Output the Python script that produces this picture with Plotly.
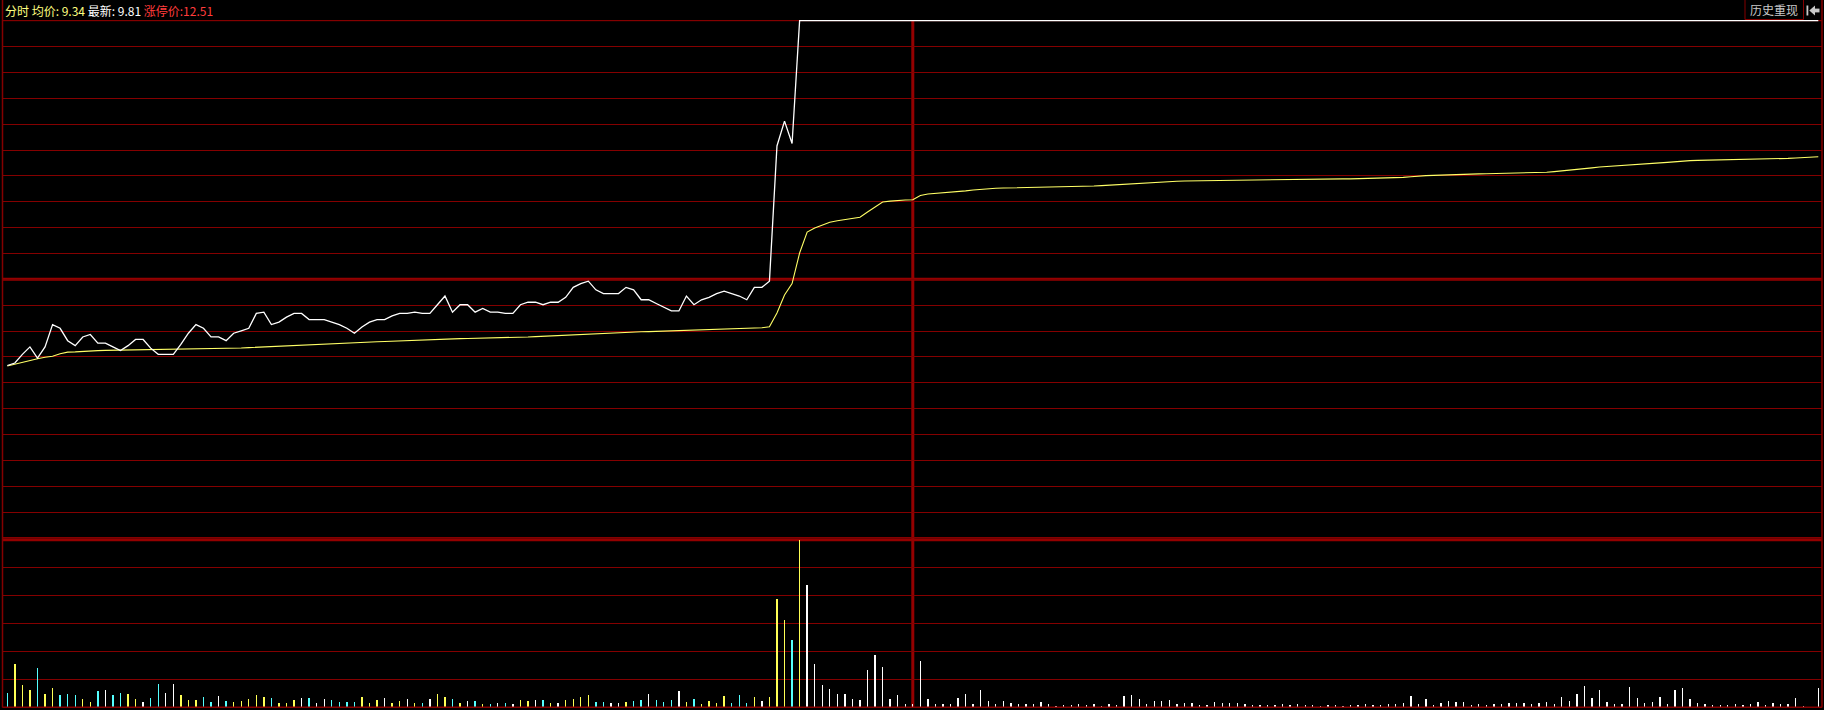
import plotly.graph_objects as go

W, H = 1824, 710

# ---------------- data ----------------
pre_close = 10.425
limit_up = 12.51
limit_down = 8.34

header_avg = "9.34"
header_last = "9.81"
header_limit = "12.51"

minutes = list(range(241))

price = [
    9.73, 9.75, 9.82, 9.88, 9.79, 9.88, 10.06, 10.03, 9.93, 9.89,
    9.96, 9.98, 9.91, 9.91, 9.88, 9.85, 9.89, 9.94, 9.94, 9.87,
    9.82, 9.82, 9.82, 9.90, 9.99, 10.06, 10.03, 9.96, 9.96, 9.93,
    9.99, 10.01, 10.03, 10.15, 10.16, 10.06, 10.08, 10.12, 10.15, 10.15,
    10.10, 10.10, 10.10, 10.08, 10.06, 10.03, 9.99, 10.04, 10.08, 10.10,
    10.10, 10.13, 10.15, 10.15, 10.16, 10.15, 10.15, 10.22, 10.29, 10.16,
    10.22, 10.22, 10.16, 10.19, 10.16, 10.16, 10.15, 10.15, 10.22, 10.24,
    10.24, 10.22, 10.24, 10.24, 10.28, 10.36, 10.39, 10.41, 10.34, 10.31,
    10.31, 10.31, 10.36, 10.34, 10.26, 10.26, 10.23, 10.20, 10.17, 10.17,
    10.29, 10.22, 10.26, 10.28, 10.31, 10.33, 10.31, 10.29, 10.26, 10.36,
    10.36, 10.41, 11.50, 11.70, 11.52, 12.51, 12.51, 12.51, 12.51, 12.51,
    12.51, 12.51, 12.51, 12.51, 12.51, 12.51, 12.51, 12.51, 12.51, 12.51,
    12.51, 12.51, 12.51, 12.51, 12.51, 12.51, 12.51, 12.51, 12.51, 12.51,
    12.51, 12.51, 12.51, 12.51, 12.51, 12.51, 12.51, 12.51, 12.51, 12.51,
    12.51, 12.51, 12.51, 12.51, 12.51, 12.51, 12.51, 12.51, 12.51, 12.51,
    12.51, 12.51, 12.51, 12.51, 12.51, 12.51, 12.51, 12.51, 12.51, 12.51,
    12.51, 12.51, 12.51, 12.51, 12.51, 12.51, 12.51, 12.51, 12.51, 12.51,
    12.51, 12.51, 12.51, 12.51, 12.51, 12.51, 12.51, 12.51, 12.51, 12.51,
    12.51, 12.51, 12.51, 12.51, 12.51, 12.51, 12.51, 12.51, 12.51, 12.51,
    12.51, 12.51, 12.51, 12.51, 12.51, 12.51, 12.51, 12.51, 12.51, 12.51,
    12.51, 12.51, 12.51, 12.51, 12.51, 12.51, 12.51, 12.51, 12.51, 12.51,
    12.51, 12.51, 12.51, 12.51, 12.51, 12.51, 12.51, 12.51, 12.51, 12.51,
    12.51, 12.51, 12.51, 12.51, 12.51, 12.51, 12.51, 12.51, 12.51, 12.51,
    12.51, 12.51, 12.51, 12.51, 12.51, 12.51, 12.51, 12.51, 12.51, 12.51,
    12.51,
]

avg_price = [
    9.726, 9.742, 9.755, 9.768, 9.785, 9.797, 9.805, 9.825, 9.838, 9.840,
    9.845, 9.848, 9.850, 9.852, 9.853, 9.855, 9.856, 9.857, 9.858, 9.858,
    9.858, 9.857, 9.857, 9.858, 9.860, 9.861, 9.862, 9.864, 9.865, 9.866,
    9.868, 9.871, 9.874, 9.877, 9.880, 9.883, 9.886, 9.890, 9.893, 9.896,
    9.900, 9.903, 9.906, 9.909, 9.911, 9.913, 9.914, 9.916, 9.918, 9.921,
    9.923, 9.926, 9.928, 9.930, 9.932, 9.934, 9.937, 9.941, 9.944, 9.946,
    9.947, 9.948, 9.949, 9.950, 9.951, 9.952, 9.953, 9.954, 9.957, 9.960,
    9.963, 9.966, 9.969, 9.972, 9.975, 9.978, 9.982, 9.986, 9.989, 9.992,
    9.995, 9.997, 9.999, 10.000, 10.002, 10.003, 10.005, 10.007, 10.009, 10.011,
    10.013, 10.015, 10.017, 10.019, 10.021, 10.023, 10.025, 10.026, 10.027, 10.030,
    10.034, 10.043, 10.153, 10.298, 10.390, 10.637, 10.806, 10.839, 10.863, 10.885,
    10.897, 10.905, 10.915, 10.925, 10.968, 11.006, 11.048, 11.055, 11.062, 11.064,
    11.066, 11.101, 11.113, 11.117, 11.121, 11.125, 11.131, 11.138, 11.145, 11.151,
    11.155, 11.159, 11.161, 11.162, 11.164, 11.165, 11.167, 11.168, 11.170, 11.171,
    11.172, 11.173, 11.174, 11.176, 11.177, 11.180, 11.184, 11.188, 11.191, 11.195,
    11.199, 11.202, 11.204, 11.207, 11.211, 11.215, 11.218, 11.219, 11.221, 11.222,
    11.223, 11.224, 11.225, 11.226, 11.227, 11.228, 11.229, 11.230, 11.231, 11.231,
    11.232, 11.232, 11.233, 11.233, 11.234, 11.234, 11.235, 11.235, 11.235, 11.236,
    11.236, 11.238, 11.240, 11.242, 11.245, 11.247, 11.252, 11.258, 11.261, 11.263,
    11.266, 11.268, 11.270, 11.272, 11.274, 11.275, 11.276, 11.277, 11.278, 11.279,
    11.280, 11.282, 11.284, 11.286, 11.288, 11.293, 11.298, 11.303, 11.309, 11.314,
    11.323, 11.330, 11.335, 11.340, 11.344, 11.348, 11.352, 11.356, 11.360, 11.364,
    11.368, 11.374, 11.379, 11.382, 11.384, 11.385, 11.385, 11.386, 11.386, 11.387,
    11.390, 11.393, 11.393, 11.393, 11.393, 11.393, 11.400, 11.403, 11.406, 11.409,
    11.413,
]

volume = [
    515, 1548, 792, 612, 1404, 468, 684, 432, 468, 432,
    288, 180, 576, 612, 432, 504, 468, 288, 180, 324,
    828, 504, 828, 432, 252, 252, 360, 180, 396, 216,
    180, 216, 288, 432, 360, 324, 144, 144, 252, 324,
    324, 144, 288, 252, 180, 180, 180, 360, 144, 252,
    324, 144, 216, 288, 144, 144, 288, 468, 360, 288,
    144, 216, 216, 108, 108, 144, 144, 108, 252, 216,
    252, 252, 144, 144, 252, 288, 360, 432, 180, 180,
    144, 144, 180, 216, 252, 468, 252, 180, 252, 576,
    180, 288, 108, 216, 144, 396, 144, 432, 144, 360,
    216, 360, 3888, 3132, 2412, 6000, 4392, 1548, 792, 648,
    468, 468, 288, 252, 1332, 1872, 1440, 288, 432, 108,
    108, 1656, 288, 108, 108, 108, 324, 468, 108, 612,
    216, 108, 216, 144, 108, 108, 108, 180, 108, 36,
    72, 72, 108, 72, 108, 36, 108, 72, 396, 432,
    288, 108, 216, 216, 252, 108, 144, 144, 72, 72,
    180, 144, 144, 144, 108, 72, 72, 72, 72, 108,
    72, 108, 72, 72, 36, 72, 72, 36, 72, 72,
    108, 72, 72, 108, 108, 144, 396, 108, 288, 72,
    144, 216, 180, 180, 72, 108, 72, 108, 108, 144,
    144, 144, 108, 144, 180, 108, 360, 216, 468, 756,
    324, 612, 180, 108, 108, 720, 324, 144, 180, 360,
    108, 612, 684, 288, 144, 108, 72, 72, 72, 108,
    72, 108, 180, 72, 144, 108, 108, 324, 36, 0,
    684,
]

# ---------------- styling ----------------
BG = "#000000"
GRID = "#840000"
GRID_THICK = "#940000"
WHITE = "#ffffff"
AVG_YELLOW = "#ffff66"
UP_COLOR = "#ffff55"
DOWN_COLOR = "#55ffff"
FLAT_COLOR = "#ffffff"
FONT = "Noto Sans CJK SC"

def px_x(px):
    return px / W

def px_y(py):
    return 1 - py / H

# pixel geometry of the panel
X_LEFT_PX, X_RIGHT_PX = 3.0, 1822.0
FIRST_BAR_PX, LAST_BAR_PX = 7.3, 1818.3
px_per_min = (LAST_BAR_PX - FIRST_BAR_PX) / (len(minutes) - 1)
x_range = [minutes[0] + (X_LEFT_PX - FIRST_BAR_PX) / px_per_min,
           minutes[-1] + (X_RIGHT_PX - LAST_BAR_PX) / px_per_min]

TOP_GRID_PX, MID_GRID_PX = 20.7, 279.3
px_per_yuan = (MID_GRID_PX - TOP_GRID_PX) / (limit_up - pre_close)
PRICE_TOP_PX, PRICE_BOT_PX = 12.0, 539.5
price_range = [pre_close - (PRICE_BOT_PX - MID_GRID_PX) / px_per_yuan,
               pre_close + (MID_GRID_PX - PRICE_TOP_PX) / px_per_yuan]

VOL_TOP_PX, VOL_BOT_PX = 540.0, 707.0
vol_max = max(volume)

# bar colours from price direction
prev = [pre_close] + price[:-1]
bar_colors = [UP_COLOR if p > q else (DOWN_COLOR if p < q else FLAT_COLOR)
              for p, q in zip(price, prev)]

fig = go.Figure()

fig.add_trace(go.Scatter(
    x=minutes, y=avg_price, mode="lines",
    line=dict(color=AVG_YELLOW, width=1.1), xaxis="x", yaxis="y",
    hoverinfo="skip"))
fig.add_trace(go.Scatter(
    x=minutes, y=price, mode="lines",
    line=dict(color=WHITE, width=1.3), xaxis="x", yaxis="y",
    hoverinfo="skip"))
fig.add_trace(go.Bar(
    x=minutes, y=volume, width=0.18,
    marker=dict(color=bar_colors, line=dict(width=0)),
    xaxis="x2", yaxis="y2", hoverinfo="skip"))

shapes = []
# thick lines: previous close and price/volume separator
shapes.append(dict(type="line", xref="paper", yref="y",
                   x0=px_x(X_LEFT_PX), x1=px_x(X_RIGHT_PX),
                   y0=pre_close, y1=pre_close,
                   line=dict(color=GRID_THICK, width=3), layer="below"))
shapes.append(dict(type="line", xref="paper", yref="paper",
                   x0=px_x(X_LEFT_PX), x1=px_x(X_RIGHT_PX),
                   y0=px_y(539.8), y1=px_y(539.8),
                   line=dict(color=GRID_THICK, width=3), layer="below"))
# top line of the price panel
shapes.append(dict(type="line", xref="paper", yref="y",
                   x0=px_x(X_LEFT_PX), x1=px_x(X_RIGHT_PX),
                   y0=limit_up, y1=limit_up,
                   line=dict(color=GRID, width=1), layer="below"))
# borders
shapes.append(dict(type="line", xref="paper", yref="paper",
                   x0=px_x(2.5), x1=px_x(2.5), y0=px_y(0), y1=px_y(707.5),
                   line=dict(color=GRID, width=1.5)))
shapes.append(dict(type="line", xref="paper", yref="paper",
                   x0=px_x(1822), x1=px_x(1822), y0=px_y(0), y1=px_y(707.5),
                   line=dict(color=GRID, width=1.5)))
shapes.append(dict(type="line", xref="paper", yref="paper",
                   x0=px_x(2.5), x1=px_x(1822), y0=px_y(707.3), y1=px_y(707.3),
                   line=dict(color=GRID, width=1.5)))
# midday separator
shapes.append(dict(type="line", xref="x", yref="paper",
                   x0=minutes[120], x1=minutes[120],
                   y0=px_y(TOP_GRID_PX), y1=px_y(707.5),
                   line=dict(color=GRID_THICK, width=3), layer="below"))
# "历史重现" button box
shapes.append(dict(type="rect", xref="paper", yref="paper",
                   x0=px_x(1745), x1=px_x(1803.5), y0=px_y(-1), y1=px_y(19.5),
                   line=dict(color=GRID, width=1), fillcolor=BG))
# back-arrow icon
ICON = "#c8c8c8"
shapes.append(dict(type="rect", xref="paper", yref="paper",
                   x0=px_x(1806.5), x1=px_x(1808.3), y0=px_y(5.5), y1=px_y(15.5),
                   line=dict(width=0), fillcolor=ICON))
shapes.append(dict(type="path", xref="paper", yref="paper",
                   path=f"M {px_x(1809.3)},{px_y(10.5)} L {px_x(1815)},{px_y(5.5)} "
                        f"L {px_x(1815)},{px_y(15.5)} Z",
                   line=dict(width=0), fillcolor=ICON))
shapes.append(dict(type="rect", xref="paper", yref="paper",
                   x0=px_x(1814.5), x1=px_x(1819.5), y0=px_y(8.6), y1=px_y(12.4),
                   line=dict(width=0), fillcolor=ICON))

header = (f'<span style="color:#ffff80">分时 均价: {header_avg}</span> '
          f'<span style="color:#ffffff">最新: {header_last}</span> '
          f'<span style="color:#ff3c3c">涨停价:{header_limit}</span>')

annotations = [
    dict(xref="paper", yref="paper", x=px_x(3), y=px_y(10.5),
         xanchor="left", yanchor="middle", showarrow=False, text=header,
         font=dict(family=FONT, size=12, color="#ffffff")),
    dict(xref="paper", yref="paper", x=px_x(1774), y=px_y(10),
         xanchor="center", yanchor="middle", showarrow=False, text="历史重现",
         font=dict(family=FONT, size=12, color="#c8c8c8")),
]

fig.update_layout(
    width=W, height=H, autosize=False,
    margin=dict(l=0, r=0, t=0, b=0, pad=0),
    paper_bgcolor=BG, plot_bgcolor=BG,
    showlegend=False, bargap=0,
    xaxis=dict(domain=[px_x(X_LEFT_PX), px_x(X_RIGHT_PX)], range=x_range,
               visible=False, fixedrange=True),
    xaxis2=dict(domain=[px_x(X_LEFT_PX), px_x(X_RIGHT_PX)], range=x_range,
                visible=False, anchor="y2", matches="x", fixedrange=True),
    yaxis=dict(domain=[px_y(PRICE_BOT_PX), px_y(PRICE_TOP_PX)], range=price_range,
               tick0=limit_down, dtick=(limit_up - pre_close) / 10,
               showgrid=True, gridcolor=GRID, gridwidth=1,
               zeroline=False, showticklabels=False, ticks="", showline=False,
               fixedrange=True),
    yaxis2=dict(domain=[px_y(VOL_BOT_PX), px_y(VOL_TOP_PX)], range=[0, vol_max],
                tick0=0, dtick=vol_max / 6,
                showgrid=True, gridcolor=GRID, gridwidth=1,
                zeroline=False, showticklabels=False, ticks="", showline=False,
                anchor="x2", fixedrange=True),
    shapes=shapes, annotations=annotations,
)

fig.write_html("out.html", config={"displayModeBar": False, "staticPlot": True},
               post_script="document.body.style.margin='0';document.body.style.overflow='hidden';")
